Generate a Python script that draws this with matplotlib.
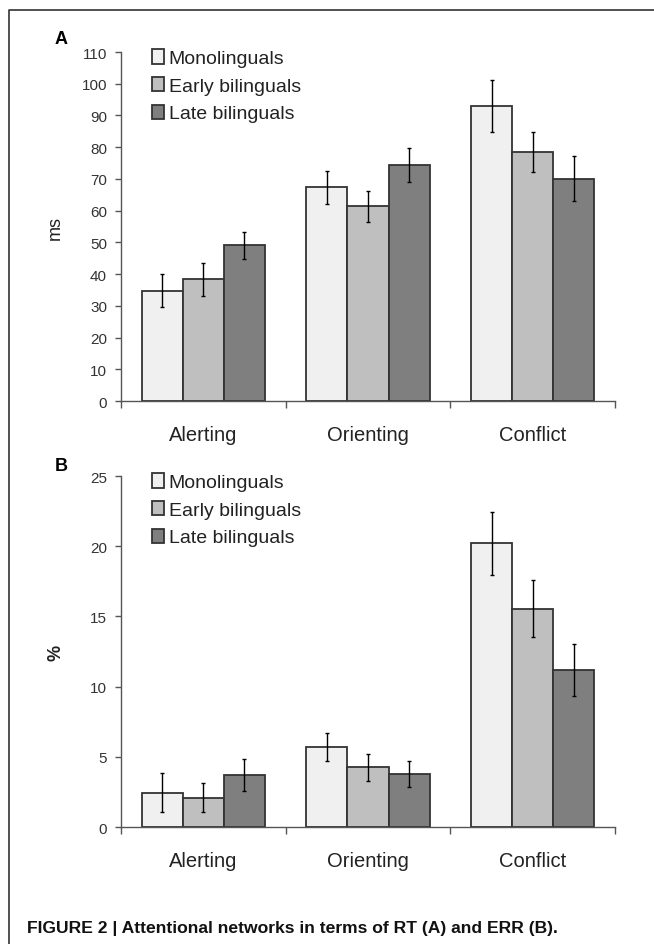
import numpy as np
import matplotlib
matplotlib.use("Agg")
import matplotlib.pyplot as plt
from matplotlib.lines import Line2D

plt.rcParams['font.family'] = ['Liberation Sans', 'DejaVu Sans']

categories = ["Alerting", "Orienting", "Conflict"]
groups = ["Monolinguals", "Early bilinguals", "Late bilinguals"]
colors = ["#f0f0f0", "#bfbfbf", "#7f7f7f"]

# panel A: RT (ms)
rt_mean = [[34.8, 67.3, 92.9],
           [38.3, 61.4, 78.5],
           [49.1, 74.4, 70.1]]
rt_err = [[5.2, 5.1, 8.2],
          [5.2, 4.9, 6.4],
          [4.3, 5.3, 7.0]]

# panel B: ERR (%)
err_mean = [[2.45, 5.69, 20.22],
            [2.1, 4.26, 15.56],
            [3.69, 3.78, 11.18]]
err_err = [[1.37, 1.0, 2.24],
           [1.0, 0.95, 2.0],
           [1.12, 0.93, 1.83]]


def panel(ax, means, errs, ymax, step, ylabel, ylabel_bold):
    x = np.arange(len(categories))
    w = 0.25
    bars = []
    for i in range(3):
        b = ax.bar(x + (i - 1) * w, means[i], w, color=colors[i],
                   edgecolor="#333333", linewidth=1.3, zorder=2)
        bars.append(b)
        ax.errorbar(x + (i - 1) * w, means[i], yerr=errs[i], fmt="none",
                    ecolor="black", elinewidth=1.0, capsize=1.5,
                    capthick=1.0, zorder=3)
    ax.set_xlim(-0.5, 2.5)
    ax.set_ylim(0, ymax)
    ax.set_yticks(np.arange(0, ymax + 0.1, step))
    ax.set_xticks(x)
    ax.set_xticklabels(categories, fontsize=14.5, color="#222222")
    ax.set_xticks([-0.5, 0.5, 1.5, 2.5], minor=True)
    ax.tick_params(axis="x", which="major", length=0, pad=17)
    ax.tick_params(axis="x", which="minor", length=5, width=1,
                   color="#555555", direction="out")
    ax.tick_params(axis="y", length=4, width=1, color="#555555",
                   labelsize=11, labelcolor="#333333", pad=6)
    for s in ["top", "right"]:
        ax.spines[s].set_visible(False)
    for s in ["left", "bottom"]:
        ax.spines[s].set_color("#555555")
        ax.spines[s].set_linewidth(1.0)
    ax.set_ylabel(ylabel, fontsize=13, color="#222222",
                  fontweight="bold" if ylabel_bold else "normal")
    ax.yaxis.set_label_coords(-0.115, 0.5)
    leg = ax.legend(bars, groups, loc="upper left",
                    bbox_to_anchor=(0.047, 1.03),
                    frameon=False, fontsize=14, handlelength=0.6,
                    handleheight=0.75, handletextpad=0.25, labelspacing=0.5,
                    borderaxespad=0)
    for t in leg.get_texts():
        t.set_color("#222222")


fig = plt.figure(figsize=(6.54, 9.45), dpi=100)
axA = fig.add_axes([0.185, 0.5746, 0.7554, 0.3693])
axB = fig.add_axes([0.185, 0.1238, 0.7554, 0.3714])

panel(axA, rt_mean, rt_err, 110, 10, "ms", False)
panel(axB, err_mean, err_err, 25, 5, "%", True)

fig.text(61 / 654, 1 - 40 / 945, "A", fontsize=13, fontweight="bold",
         ha="center", va="center")
fig.text(61 / 654, 1 - 467 / 945, "B", fontsize=13, fontweight="bold",
         ha="center", va="center")

# outer frame (left and top edges)
fig.add_artist(Line2D([9 / 654, 9 / 654, 1.0], [0.0, 1 - 11 / 945, 1 - 11 / 945],
                      transform=fig.transFigure, color="#333333", linewidth=1.2))

fig.text(27 / 654, 1 - 929 / 945,
         "FIGURE 2 | Attentional networks in terms of RT (A) and ERR (B).",
         fontsize=12.6, fontweight="bold", va="center", ha="left",
         color="#111111")

fig.savefig("out.png", dpi=100)
